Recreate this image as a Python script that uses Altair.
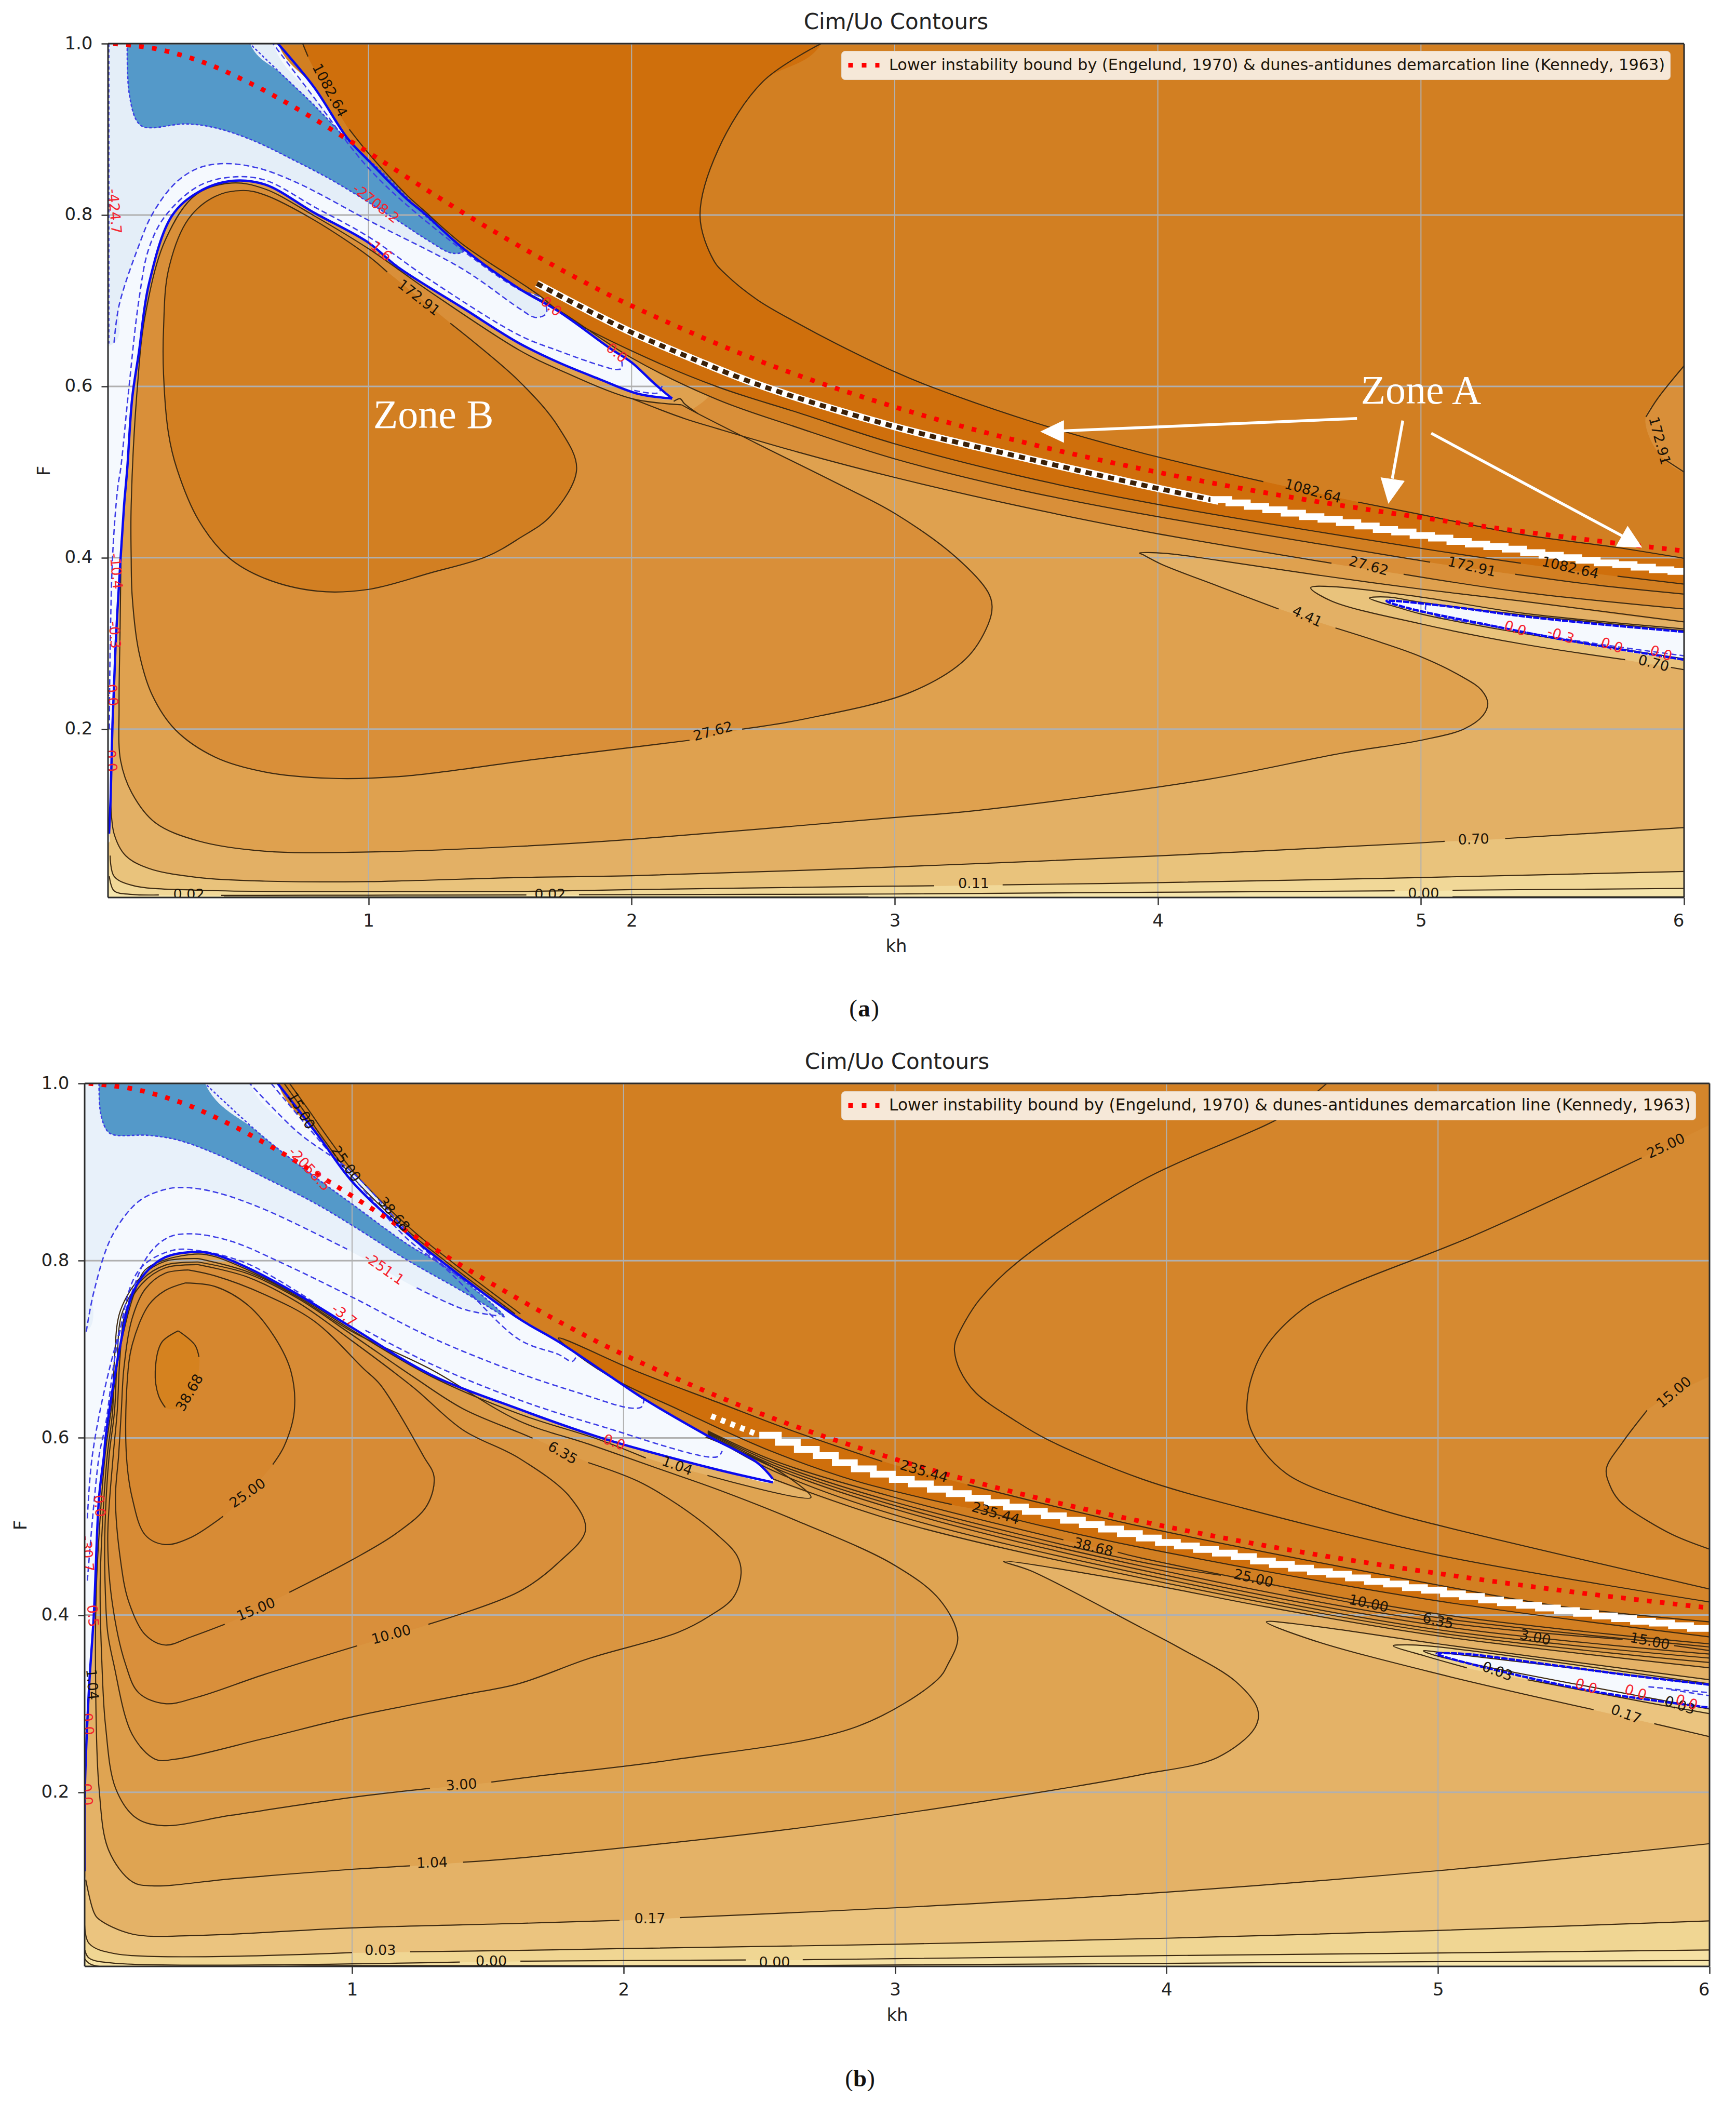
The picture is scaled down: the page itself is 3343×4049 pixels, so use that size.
import altair as alt
import pandas as pd

# ---------- shared reference curve: F values ----------
KENNEDY = [(0.03,1.0),(0.1,0.998),(0.2,0.9935),(0.3,0.9855),(0.4,0.975),(0.5,0.9613),(0.6,0.946),(0.7,0.929),(0.8,0.911),(0.9,0.892),
           (1.0,0.873),(1.2,0.8335),(1.4,0.795),(1.6,0.759),(1.8,0.725),(2.0,0.694),(2.5,0.628),(3.0,0.576),(3.5,0.534),(4.0,0.4998),
           (4.5,0.471),(5.0,0.447),(5.5,0.426),(6.0,0.408)]
LEGEND_TEXT = "Lower instability bound by (Engelund, 1970) & dunes-antidunes demarcation line (Kennedy, 1963)"
KH_TICKS = [1,2,3,4,5,6]
F_TICKS = [0.2,0.4,0.6,0.8,1.0]

# ---------- panel (a) ----------
A_STEP = [(4.20,.468),(4.27,.464),(4.34,.460),(4.41,.456),(4.48,.452),(4.55,.448),(4.62,.445),(4.69,.441),(4.76,.437),(4.83,.433),
          (4.90,.430),(4.97,.426),(5.04,.423),(5.11,.419),(5.18,.416),(5.25,.413),(5.32,.410),(5.39,.406),(5.46,.403),(5.53,.400),
          (5.60,.397),(5.67,.394),(5.74,.392),(5.81,.389),(5.88,.386),(5.95,.384),(6.02,.381)]
A_SING = [(1.64,.720),(1.8,.694),(2.0,.663),(2.25,.630),(2.5,.600),(3.0,.553),(3.5,.516),(3.94,.485),(4.23,.466)]
A_00A = [(.45,.0035),(2.9,.0035)]
A_00B = [(5.12,.0037),(6,.0037)]
A_02 = [(.015,.0283),(.033,.0113),(.102,.0071),(.203,.0065),None,(.44,.006),(1.0,.0062),(1.6,.0065),None,(1.8,.0068),(2.99,.0076),(4.0,.0096),(4.9,.0113),None,(5.12,.012),(6,.0141)]
A_11 = [(.018,.0524),(.033,.0283),(.102,.0177),(.354,.012),(1.0,.0104),(1.572,.0106),(2.0,.0127),(2.99,.0167),(3.15,.0172),None,(3.41,.0183),(4.0,.0208),(5.0,.0268),(6,.0339)]
A_70 = [(.02,.1205),(.033,.0779),(.077,.0523),(.165,.0374),(.354,.0268),(.606,.0226),(1.0,.0221),(1.572,.0268),(2.0,.0289),(2.99,.039),(4.0,.0521),(5.0,.0673),(5.09,.069),None,(5.32,.0723),(6,.0851)]
A_441 = [(.06,.42),(.056,.32),(.052,.2269),(.058,.163),(.102,.1247),(.19,.0907),(.354,.0694),(.606,.0575),(1.0,.0566),(1.572,.0632),(2.0,.0713),(2.99,.0966),(3.31,.105),(4.186,.1412),(4.7,.172),(5.0,.187),(5.164,.2002),(5.236,.216),(5.254,.2299),(5.23,.2455),(5.16,.2605),(5.0,.2845),(4.85,.301),(4.675,.3181),None,(4.459,.3402),(4.229,.3669),(4.013,.3925),(3.94,.4041),(3.93,.4055),(4.027,.4052),(4.229,.397),(4.58,.381),(5.0,.3634),(5.38,.3495),(6,.3251)]
A_W70 = [(6,.3170),(5.38,.3356),(5.0,.3541),(4.66,.3664),(4.581,.365),(4.66,.3495),(5.0,.3228),(5.38,.2996),(5.776,.281),None,(5.95,.272),(6,.2694)]
A_W11 = [(6,.3150),(5.38,.3335),(5.0,.3480),(4.876,.3541),(4.804,.353),(4.919,.3414),(5.0,.3344),(5.31,.3158),(6,.2821)]
A_TIP = [(6,.3135),(5.668,.3228),(5.38,.332),(5.092,.3437),(4.869,.3495),(4.948,.3414),(5.236,.3228),(5.524,.3054),(6,.281)]
A_TIP_D = [(5.02,.346),(5.02,.3379),(5.308,.3181),(5.668,.2996),(6,.2856)]
A_C = [(6,.3402),(5.38,.36),(4.934,.3808),None,(4.66,.3936),(3.94,.4314),(3.46,.4612),(3,.4937),(2.63,.5235),(2.327,.5506),(2.2,.5625),(2.0,.5858)]
A_LOBE27 = [(2.19,.5785),(2.0,.5858),(1.723,.6197),(1.573,.6423),(1.235,.7102),(1.0,.7607),(.794,.799),(.606,.8304),(.48,.8373),(.341,.823),(.228,.771),(.152,.684),(.121,.597),(.098,.461),(.098,.4006),(.102,.3546),(.127,.2907),(.178,.2397),(.266,.1992),(.417,.1673),(.606,.15),(.857,.1426),(1.13,.145),(1.64,.165),(2.22,.187),None,(2.42,.2),(2.66,.212),(3.06,.243),(3.27,.282),(3.355,.3223),(3.37,.3434),(3.355,.3597),(3.234,.4003),(3.0,.4518),(2.78,.487),(2.478,.533),(2.252,.5682),(2.19,.5785)]
A_LOOP = [(2.252,.5682),(2.2,.58),(2.185,.5855),(2.16,.5825)]
A_R172 = [(6,.3576),(5.67,.368),(5.358,.3808),None,(5.035,.3948),(5.0,.3966),(3.94,.4512),(3.46,.4802),(3,.5154),(2.63,.552),(2.327,.5845),(2.0,.6332),(1.723,.6888),(1.572,.7145)]
A_ZONEB = [(1.071,.7335),(1.0,.752),(.794,.794),(.606,.8234),(.524,.8286),(.417,.8217),(.316,.7955),(.24,.7363),(.221,.6667),(.221,.6144),(.24,.5448),(.272,.5036),(.354,.444),(.467,.4006),(.606,.3759),(.807,.361),(1.0,.3631),(1.235,.3823),(1.449,.4014),(1.573,.4227),(1.693,.449),(1.791,.5032),(1.723,.552),(1.572,.6062),(1.311,.6736),None,(1.071,.7335)]
A_1082L = [(6,.3692),(5.747,.3785),None,(5.38,.3936),(5,.411),(3.941,.4656),(3.46,.4965),(3,.533),(2.63,.5696),(2.327,.5994),(2.0,.6414),(1.753,.6806),(1.648,.7064),(1.361,.765),(1.21,.8055),(1.147,.8229),(1.0,.872),(.927,.9),None,(.77,.985),(.75,1.0)]
A_1082U = [(2.72,1.0),(2.5,.956),(2.33,.877),(2.26,.799),(2.312,.747),(2.358,.7307),(2.478,.701),(2.63,.6739),(2.78,.6495),(3.0,.617),(3.128,.6007),(3.536,.5574),(3.941,.5222),(4.401,.4888),None,(4.761,.4649),(5.0,.4505),(5.38,.4273),(5.74,.4122),(6,.3994)]
A_RC = [(6,.624),(5.9,.586),(5.855,.5643),None,(5.925,.515),(6,.5)]
A_UPPER = [(.656,1.0),(.794,.9488),(.92,.8896),(1.0,.8635),(1.147,.8182),(1.21,.8025),(1.361,.7607),(1.573,.714),(1.723,.6874),(1.92,.644),(2.0,.628),(2.086,.6034),(2.154,.5858)]
A_LOWER = [(2.154,.5858),(2.025,.5913),(1.874,.6089),(1.723,.6278),(1.573,.6503),(1.361,.691),(1.109,.7398),(1.0,.7677),(.794,.8025),(.606,.8356),(.48,.8398),(.354,.8269),(.253,.799),(.165,.7189),(.127,.6388),(.102,.5866),(.083,.5036),(.071,.461),(.058,.4006),(.039,.299),(.027,.2056),(.02,.12),(.014,.078)]
A_LIGHT = [(.033,.651),(.052,.6945),(.127,.7642),(.178,.8008),(.266,.8373),(.354,.8548),(.454,.86),(.58,.8548),(.731,.8373),(1.0,.7938),(1.361,.7363),(1.573,.691),(1.632,.6806),(1.67,.6833),(1.678,.6888),(1.655,.7037),(1.572,.7131),(1.235,.7886),(1.0,.8547),(.794,.9366),(.637,1.0)]
A_DASH2 = [(.015,.2),(.018,.291),(.028,.4057),(.047,.482),(.058,.5036),(.089,.597),(.127,.7),(.165,.7607),(.228,.799),(.354,.8338),(.48,.8443),(.606,.8408),(.794,.8095),(1.0,.7746),(1.235,.7241),(1.573,.6597),(1.723,.6414),(1.874,.6251),(1.942,.6197),(1.962,.6211),(1.962,.6305)]
A_DASH3 = [(2.01,.5953),(2.101,.5926),(2.116,.6007)]
A_AXIS_D = [(.013,1.0),(.013,.65)]
A_BLUE = [(.083,1.0),(.089,.9453),(.115,.9122),(.14,.9035),(.178,.9018),(.303,.9063),(.417,.9018),(.555,.8878),(.731,.8617),(.87,.8391),(1.109,.7938),(1.222,.7712),(1.317,.7555),(1.361,.7579),(1.21,.8008),(1.071,.8443),(.92,.8878),(.794,.9279),(.669,.9645),(.549,1.0)]
A_ARROWS = [[(4.757,.5625),(3.62,.5478)],[(4.931,.5601),(4.891,.4923)],[(5.039,.5453),(5.768,.425)]]
A_HEADS = [[(3.554,.5471),(3.642,.5601),(3.642,.5344)],[(4.847,.4935),(4.937,.4895),(4.876,.4633)],[(5.786,.437),(5.742,.4133),(5.84,.4122)]]
A_LABELS = [("1082.64",.851,.9453,62,"k"),("172.91",1.19,.7032,38,"k"),("1082.64",4.589,.4772,15,"k"),("27.62",4.801,.39,15,"k"),("172.91",5.193,.389,13,"k"),
            ("1082.64",5.567,.3878,13,"k"),("4.41",4.567,.3309,25,"k"),("0.70",5.884,.2763,14,"k"),("172.91",5.905,.5364,75,"k"),("27.62",2.31,.197,345,"k"),
            ("0.70",5.2,.0708,358,"k"),("0.11",3.3,.0195,0,"k"),("0.02",.317,.0065,0,"k"),("0.02",1.69,.0065,0,"k"),("0.00",5.01,.0075,0,"k"),
            ("-424.7",.033,.8042,85,"r"),("-2708.2",1.027,.813,38,"r"),("-1.6",1.04,.759,40,"r"),("0.0",1.693,.6928,40,"r"),("0.0",1.942,.6387,40,"r"),
            ("-10.4",.039,.3844,85,"r"),("-0.3",.033,.3099,85,"r"),("0.0",.024,.2397,85,"r"),("0.0",.02,.163,85,"r"),
            ("0.0",5.358,.317,18,"r"),("-0.3",5.531,.3089,18,"r"),("0.0",5.725,.2972,18,"r"),("0.0",5.912,.2879,18,"r")]

# ---------- panel (b) ----------
B_STEP = [(2.50,.603),(2.57,.595),(2.64,.587),(2.71,.580),(2.78,.572),(2.85,.565),(2.92,.559),(2.99,.553),(3.06,.548),(3.13,.542),(3.20,.537),
          (3.27,.532),(3.34,.527),(3.41,.522),(3.48,.517),(3.55,.512),(3.62,.507),(3.69,.502),(3.76,.497),(3.83,.492),(3.90,.487),(3.97,.482),
          (4.04,.478),(4.11,.474),(4.18,.470),(4.25,.466),(4.32,.461),(4.39,.457),(4.46,.453),(4.53,.449),(4.60,.446),(4.67,.442),(4.74,.438),
          (4.81,.435),(4.88,.431),(4.95,.428),(5.02,.424),(5.09,.421),(5.16,.417),(5.23,.414),(5.30,.411),(5.37,.408),(5.44,.405),(5.51,.402),
          (5.58,.399),(5.65,.396),(5.72,.393),(5.79,.391),(5.86,.388),(5.93,.385),(6.02,.383)]
B_SING = [(2.323,.6246),(2.5,.603)]
B_LOW = [(.016,.012),(.04,.0055),(1.0,.0045),(2.6,.0045),(3.997,.0069),(5.01,.0089),(6,.0102)]
B_00 = [(.016,.0218),(.031,.013),(.129,.007),(1.397,.0084),None,(1.62,.0094),(2.45,.0108),None,(2.66,.011),(2.998,.0122),(3.997,.0157),(5.01,.0187),(6,.022)]
B_03 = [(.015,.0499),(.031,.0295),(.129,.0177),(1.0,.0191),None,(1.214,.02),(1.614,.0216),(2.0,.0236),(2.998,.0285),(3.997,.0353),(5.01,.0442),(6,.0549)]
B_17 = [(.019,.1014),(.05,.0639),(.068,.0566),(.19,.04),(.433,.0385),(1,.047),(1.614,.052),(1.985,.0555),None,(2.207,.0585),(2.998,.0696),(3.997,.0873),(5.01,.1118),(6,.142)]
B_104 = [(6,.3405),(5,.3765),(4.368,.4092),(3.908,.4362),(3.4,.4605),(3.5,.45),(3.908,.3856),(4.048,.363),(4.256,.3247),(4.336,.2932),(4.326,.273),(4.187,.2392),(3.908,.22),(3.65,.2059),(2.66,.1603),(1.614,.1258),(1.409,.1211),None,(1.214,.117),(1.0,.1131),(.556,.1024),(.263,.0944),(.19,.0991),(.104,.1342),(.068,.2045),(.055,.34),(.058,.43),(.07,.5),(.09,.5794),(.112,.63),(.145,.7),(.2,.765),(.238,.7895),(.312,.801),(.433,.8075),(.495,.8045),(.616,.7895),(.8,.7605),(1.0,.7215),(1.287,.67),(1.614,.6272),(1.907,.5983),(2.082,.5773),None,(2.309,.5576),(2.69,.5327),(2.55,.5668),(2.302,.601)]
B_LOBE3 = [(.433,.8024),(.616,.7874),(.8,.7589),(1.0,.7199),(1.287,.6779),(1.614,.6193),(1.87,.5931),(2.126,.5655),(2.345,.5419),(2.638,.5064),(2.997,.4565),(3.165,.4171),(3.231,.3751),(3.194,.3441),(3.157,.3274),(2.86,.2742),(2.17,.2362),(1.676,.218),(1.513,.2115),None,(1.287,.2045),(1.0,.1942),(.556,.1741),(.3,.1624),(.202,.1717),(.129,.2045),(.092,.2748),(.078,.35),(.072,.43),(.08,.5),(.098,.5794),(.118,.63),(.125,.6899),(.147,.7439),(.226,.7829),(.312,.7994),(.433,.8024)]
B_LOBE6 = [(.433,.7985),(.616,.7853),(.8,.7574),(1.0,.7163),(1.226,.6688),(1.409,.6328),(1.614,.6062),(1.665,.5997),None,(1.87,.5721),(2.053,.5511),(2.199,.5248),(2.345,.4907),(2.418,.467),(2.433,.4473),(2.404,.4198),(2.316,.3988),(2.2,.3804),(1.877,.3515),(1.614,.3226),(1.409,.31),(1.0,.2851),(.677,.2608),(.348,.2373),(.275,.2373),(.19,.2654),(.122,.345),(.1,.38),(.09,.4388),(.09,.5),(.105,.5794),(.125,.63),(.135,.6899),(.153,.7409),(.226,.7784),(.312,.7949),(.433,.7985)]
B_LOBE10 = [(.433,.7955),(.616,.7814),(.8,.7529),(1.0,.7094),(1.226,.6569),(1.409,.6088),(1.614,.5773),(1.804,.5327),(1.86,.4959),(1.76,.4592),(1.614,.4263),(1.281,.3896),None,(1.019,.3653),(.677,.333),(.433,.3076),(.311,.3),(.214,.3123),(.165,.3451),(.116,.4154),(.1,.4857),(.12,.5794),(.135,.63),(.145,.69),(.165,.7409),(.226,.7739),(.312,.7919),(.433,.7955)]
B_LOBE15 = [(.397,.7895),(.495,.7829),(.677,.7619),(.86,.7319),(1.043,.6779),(1.104,.66),(1.263,.5794),(1.302,.556),(1.275,.5232),(1.165,.4927),(1.0,.4623),(.769,.4257),None,(.531,.3896),(.409,.3756),(.311,.3662),(.238,.3779),(.177,.4154),(.147,.4622),(.1285,.5325),(.14,.5794),(.15,.63),(.16,.68),(.19,.7349),(.238,.7679),(.312,.7859),(.397,.7895)]
B_LOBE25 = [(.385,.7748),(.495,.7709),(.616,.7499),(.714,.714),(.775,.6748),(.787,.6298),(.75,.5908),(.708,.57),None,(.525,.5115),(.409,.488),(.311,.4796),(.238,.4904),(.19,.5325),(.169,.5794),(.171,.66),(.19,.7049),(.251,.7499),(.312,.7664),(.385,.7748)]
B_LOBE38 = [(.36,.7208),(.421,.7049),(.436,.6913),None,(.312,.6343),(.287,.6478),(.275,.6749),(.299,.7079),(.36,.7208)]
B_LOBE38_FILL = [(.36,.7208),(.421,.7049),(.436,.6913),(.434,.675),(.421,.654),(.36,.634),(.312,.6343),(.287,.6478),(.275,.6749),(.299,.7079),(.36,.7208)]
B_R3 = [(6,.3465),(5,.38),(3.908,.4418),(3,.5064),(2.55,.5537)]
B_R6 = [(6,.3515),(5,.3835),(3.908,.4463),(3,.513),(2.55,.563),(2.31,.604)]
B_R10 = [(6,.356),(5,.388),(3.908,.4508),(3,.5195),(2.55,.5668),(2.31,.605)]
B_R15 = [(6,.36),(5.87,.3655),None,(5.68,.3725),(5,.3925),(3.908,.4553),(3,.5235),(2.55,.5695),(2.31,.606)]
B_R25 = [(6,.364),(5,.397),(4.45,.428),None,(4.2,.445),(3.908,.4598),(3,.5274),(2.55,.5721),(2.31,.607)]
B_R38 = [(6,.3675),(5,.4013),(3.908,.4643),(3.82,.471),None,(3.62,.485),(3,.5327),(2.55,.5747),(2.31,.608)]
B_LENS = [(6,.3754),(5,.4159),(3.908,.4762),(3.516,.5025),(3.3,.5195),None,(3.209,.5248),(2.858,.5511),(2.521,.5878),(2.199,.6325),(1.98,.664),(1.833,.6929),(1.76,.7126),(2.053,.6745),(2.345,.6403),(2.638,.6062),(2.953,.5734),None,(3.267,.5471),(3.908,.4999),(5,.4339),(5.441,.4103),(6,.3923)]
B_L38 = [(4.59,1.0),(4.44,.965),(3.9,.889),(3.45,.798),(3.311,.7559),(3.25,.727),(3.222,.708),(3.219,.6981),(3.238,.677),(3.297,.651),(3.443,.6193),(3.56,.5983),(3.908,.5537),(4.284,.5206),(5,.4677),(6,.4148)]
B_L25 = [(6,.953),None,(5.75,.916),(5.13,.828),(4.64,.768),(4.5,.745),(4.36,.70),(4.3,.65),(4.31,.61),(4.44,.56),(4.772,.5206),(5,.5015),(6,.4294)]
B_L15 = [(6,.669),None,(5.77,.631),(5.68,.595),(5.62,.565),(5.635,.545),(5.665,.53),(5.7,.5206),(5.86,.4913),(6,.4744)]
B_HUG1 = [(.75,1.0),(.82,.97),(.9,.935),(1.0,.895),(1.2,.835),(1.35,.798),(1.6,.74)]
B_HUG2 = [(.77,1.0),(.84,.97),(.92,.935),(1.02,.895),(1.22,.835),(1.37,.798),(1.62,.74)]
B_W17 = [(6,.327),(5,.3675),(4.535,.3878),(4.368,.3923),(4.535,.372),(5,.3337),(5.573,.2932),None,(5.796,.2775),(6,.2628)]
B_W03 = [(6,.3225),(5,.3641),(4.884,.3664),(4.835,.3653),(4.95,.354),(5.106,.3405),None,(5.33,.327),(5.775,.3011),(6,.2887)]
B_W00 = [(6,.3214),(5.023,.3574),(4.946,.3596),(5.009,.3529),(6,.294)]
B_TIP = [(6,.3214),(5.72,.3315),(5.441,.3428),(5.093,.3563),(4.995,.3563),(5.023,.3529),(5.302,.3315),(5.58,.3135),(5.775,.3045),(6,.2955)]
B_TIP_D1 = [(5.775,.3191),(6,.3124)]
B_TIP_D2 = [(5.859,.3157),(6,.309)]
B_UPPER = [(.726,1.0),(.873,.942),(1.0,.8894),(1.202,.8309),(1.348,.7949),(1.614,.7348),(1.76,.7086),(1.965,.6666),(2.067,.6456),(2.302,.6036),(2.492,.5721),(2.55,.5537)]
B_LOWER = [(2.55,.5498),(2.345,.5642),(2.053,.5878),(1.907,.601),(1.614,.6325),(1.287,.6718),(1.0,.7244),(.8,.7619),(.616,.7919),(.495,.8069),(.433,.81),(.312,.8039),(.238,.7859),(.19,.7619),(.141,.6959),(.092,.5998),(.086,.5794),(.068,.5325),(.049,.4013),(.031,.317),(.016,.2045),(.015,.1108)]
B_LIGHT = [(.021,.7199),(.049,.7649),(.116,.8279),(.214,.8669),(.312,.8804),(.385,.8825),(.495,.8774),(.677,.8579),(.982,.8129),(1.238,.7694),(1.409,.7454),(1.531,.7379),(1.562,.7364),(1.5,.76),(1.287,.8069),(1.0,.8999),(.8,.945),(.623,1.0)]
B_D1 = [(.021,.7199),(.049,.7649),(.116,.8279),(.214,.8669),(.312,.8804),(.385,.8825),(.495,.8774),(.677,.8579),(.982,.8129),None,(1.238,.7694),(1.409,.7454),(1.531,.7379),None,(1.5,.76),(1.287,.8069),(1.0,.8999),(.8,.945),(.623,1.0)]
B_D2 = [(.025,.5091),(.043,.5794),(.104,.675),(.19,.7649),(.251,.8069),(.324,.8264),(.409,.8303),(.555,.8219),(.738,.7979),(1.0,.7589),(1.287,.7139),(1.614,.6732),(1.833,.6509),(2.023,.6338),(2.067,.6351),(2.075,.6443)]
B_D3 = [(.025,.4388),(.068,.5794),(.092,.6148),(.135,.7048),(.214,.7889),(.336,.8114),(.433,.8114),(.616,.7964),(.86,.7529),None,(1.049,.7214),(1.287,.6839),(1.614,.643),(1.907,.6141),(2.345,.5786),(2.363,.5852)]
B_D4 = [(.702,1.0),(.921,.921),(1.0,.895),(1.202,.825),(1.348,.79),(1.614,.7113),(1.76,.6942),(1.811,.6863),(1.826,.6916)]
B_BLUE = [(.068,1.0),(.074,.966),(.098,.9465),(.122,.942),(.251,.9414),(.36,.936),(.507,.9194),(.677,.8939),(.86,.8654),(1.0,.8399),(1.202,.8009),(1.409,.7649),(1.531,.7424),(1.562,.7364),(1.531,.7469),(1.348,.7919),(1.202,.8189),(1.0,.8639),(.8,.9089),(.653,.945),(.458,1.0)]
B_LABELS = [("15.00",.811,.969,60,"k"),("25.00",.976,.909,55,"k"),("38.68",1.153,.852,50,"k"),("38.68",.403,.6508,300,"k"),("25.00",.616,.5372,325,"k"),
            ("15.00",.647,.406,338,"k"),("10.00",1.145,.3775,345,"k"),("3.00",1.403,.208,356,"k"),("1.04",1.295,.12,358,"k"),("0.03",1.104,.021,0,"k"),
            ("0.00",1.513,.0085,0,"k"),("0.17",2.097,.057,0,"k"),("0.00",2.556,.0075,0,"k"),("6.35",1.775,.5826,30,"k"),("1.04",2.197,.568,20,"k"),
            ("235.44",3.106,.5616,16,"k"),("235.44",3.37,.5143,16,"k"),("38.68",3.73,.4762,14,"k"),("25.00",4.32,.441,13,"k"),("10.00",4.744,.4125,12,"k"),
            ("6.35",5.0,.393,12,"k"),("3.00",5.358,.3743,12,"k"),("15.00",5.78,.37,11,"k"),("0.03",5.218,.336,20,"k"),("0.17",5.692,.2876,20,"k"),("0.03",5.89,.2977,18,"k"),
            ("25.00",5.84,.929,335,"k"),("15.00",5.87,.651,320,"k"),
            ("-2058.5",.842,.903,47,"r"),("-251.1",1.117,.7904,35,"r"),("-3.7",.97,.7379,38,"r"),("0.0",1.965,.5944,20,"r"),("-30.7",.023,.4693,85,"r"),
            ("0.0",.068,.5232,85,"r"),("0.5",.043,.399,85,"r"),("1.04",.041,.3217,85,"k"),("0.0",.025,.277,85,"r"),("0.0",.021,.1975,85,"r"),
            ("0.0",5.545,.3191,18,"r"),("0.0",5.727,.3124,18,"r"),("0.0",5.915,.3011,18,"r")]

FONT = "DejaVu Sans"
LINE = "#3d2a12"
BLUE = "#0a0af0"
DASH = "#3c3ce6"
HI = 1.3


def clean(pts):
    return [p for p in pts if p is not None]


def poly_df(pts):
    pts = clean(pts)
    return pd.DataFrame({"kh": [p[0] for p in pts], "F": [p[1] for p in pts], "i": list(range(len(pts)))})


def seg_df(pts):
    rows, seg, i = [], 0, 0
    for p in pts:
        if p is None:
            seg += 1
            continue
        rows.append({"kh": p[0], "F": p[1], "i": i, "seg": seg})
        i += 1
    return pd.DataFrame(rows)


def above(pts):
    c = clean(pts)
    return c + [(6.2, c[-1][1]), (7, c[-1][1]), (7, HI), (-1, HI), (-1, c[0][1])]


class Panel:
    def __init__(self, xmin, ymin, width, height):
        self.width, self.height = width, height
        self.x = alt.X("kh:Q", scale=alt.Scale(domain=[xmin, 6], nice=False, zero=False),
                       axis=alt.Axis(values=KH_TICKS, format="d", title="kh", grid=False, domain=False))
        self.y = alt.Y("F:Q", scale=alt.Scale(domain=[ymin, 1], nice=False, zero=False),
                       axis=alt.Axis(values=F_TICKS, format=".1f", title="F", grid=False, domain=False))
        self.xmin, self.ymin = xmin, ymin
        self.layers = []

    def fill(self, pts, color):
        self.layers.append(alt.Chart(poly_df(pts)).mark_line(
            fill=color, stroke=color, strokeWidth=1, interpolate="catmull-rom", clip=True
        ).encode(x=self.x, y=self.y, order="i:Q"))

    def flat(self, pts, color):
        self.layers.append(alt.Chart(poly_df(pts)).mark_line(
            fill=color, stroke=color, strokeWidth=1, interpolate="linear", clip=True
        ).encode(x=self.x, y=self.y, order="i:Q"))

    def line(self, pts, color=LINE, width=2.2, dash=None, interp="catmull-rom"):
        kw = dict(stroke=color, strokeWidth=width, interpolate=interp, clip=True)
        if dash:
            kw["strokeDash"] = dash
        self.layers.append(alt.Chart(seg_df(pts)).mark_line(**kw).encode(
            x=self.x, y=self.y, detail="seg:N", order="i:Q"))

    def grid(self):
        self.layers.append(alt.Chart(pd.DataFrame({"kh": KH_TICKS})).mark_rule(color="#b0b0b0", strokeWidth=2).encode(x=self.x))
        self.layers.append(alt.Chart(pd.DataFrame({"F": F_TICKS})).mark_rule(color="#b0b0b0", strokeWidth=3).encode(y=self.y))

    def labels(self, rows, size=27):
        df = pd.DataFrame(rows, columns=["t", "kh", "F", "a", "c"])
        self.layers.append(alt.Chart(df).mark_text(font=FONT, fontSize=size, clip=True, baseline="middle", align="center").encode(
            x=self.x, y=self.y, text="t:N", angle=alt.Angle("a:Q", scale=None),
            color=alt.Color("c:N", scale=alt.Scale(domain=["k", "r"], range=["#1c1408", "#f5222d"]), legend=None)))

    def kennedy(self, legend_x, legend_y, size):
        df = pd.DataFrame(KENNEDY, columns=["kh", "F"])
        df["i"] = range(len(df))
        df["name"] = LEGEND_TEXT
        self.layers.append(alt.Chart(df).mark_line(strokeDash=[9, 16], strokeWidth=9, interpolate="catmull-rom", clip=True).encode(
            x=self.x, y=self.y, order="i:Q",
            stroke=alt.Stroke("name:N", scale=alt.Scale(range=["#ff0000"]), legend=alt.Legend(
                title=None, orient="none", legendX=legend_x, legendY=legend_y, fillColor="#f6e8d8", strokeColor="#e6d6c4",
                cornerRadius=7, padding=9, labelFont=FONT, labelFontSize=size, labelLimit=3000, labelColor="#1c1408",
                symbolType="stroke", symbolSize=3600, symbolStrokeWidth=9, symbolDash=[9, 17], labelOffset=14, clipHeight=37))))

    def spines(self):
        for v in [self.xmin, 6]:
            self.layers.append(alt.Chart(pd.DataFrame({"kh": [v]})).mark_rule(color="#2b2b2b", strokeWidth=3).encode(x=self.x))
        for v in [self.ymin, 1]:
            self.layers.append(alt.Chart(pd.DataFrame({"F": [v]})).mark_rule(color="#2b2b2b", strokeWidth=3).encode(y=self.y))

    def caption(self, letter, px, py):
        for t, dx, w in [("(", -21, "normal"), (letter, 0, "bold"), (")", 21, "normal")]:
            self.layers.append(alt.Chart(pd.DataFrame({"t": [t]})).mark_text(
                font="Liberation Serif", fontSize=47, fontWeight=w, color="#111111", align="center", baseline="middle"
            ).encode(text="t:N", x=alt.value(px + dx), y=alt.value(py)))

    def chart(self):
        return alt.layer(*self.layers).properties(
            width=self.width, height=self.height,
            title=alt.TitleParams("Cim/Uo Contours", font=FONT, fontSize=42, fontWeight="normal", color="#222222", offset=2))


TONGUE_HIDE = [(2.3, .595), (1.6, .71), (1.0, .86), (.7, .98), (.65, HI), (7, HI)]

# ============ panel (a) ============
a = Panel(0.01, 0.0035, 3035, 1644)
a.flat([(-1, -1), (7, -1), (7, HI), (-1, HI)], "#f6e6ad")
a.fill(above(A_02), "#f1d898")
a.fill(above(A_11), "#e9c37c")
a.fill(above(A_70), "#e3b065")
a.fill(above(A_441), "#dfa14f")
a.fill(clean(A_C)[:-1] + TONGUE_HIDE + [(7, .3402)], "#d98f39")
a.fill(A_LOBE27, "#d98f39")
a.fill(A_R172 + [(1.2, .8), (.9, .88), (.6, 1.0), (.6, HI), (7, HI), (7, .3576)], "#d27f22")
a.fill(clean(A_RC)[:3] + [(5.87, .54)] + clean(A_RC)[3:] + [(6.2, .5), (6.2, .624)], "#d98f39")
a.fill(A_ZONEB, "#d27f22")
a.fill(clean(A_1082L) + [(.74, HI), (2.8, HI)] + clean(A_1082U) + [(6.2, .39), (6.2, .36)], "#cf6f0c")
a.fill(A_W70 + [(6.2, .2694), (6.2, .317)], "#e9c37c")
a.fill(A_W11 + [(6.2, .2821), (6.2, .315)], "#f1d898")
a.fill(A_TIP + [(6.2, .281), (6.2, .3135)], "#f5f9fe")
a.fill([(-1, HI), (.656, HI)] + A_UPPER + A_LOWER[1:] + [(.0138, .068), (0, .068), (-1, .068)], "#f5f9fe")
a.fill([(-1, .65)] + A_LIGHT + [(.637, HI), (-1, HI)], "#e4eef8")
a.fill(A_BLUE + [(.549, HI), (.083, HI)], "#5499c9")
a.grid()
for c in [A_02, A_11, A_70, A_441, A_C, A_LOBE27, A_LOOP, A_R172, A_ZONEB, A_1082L, A_1082U, A_W70, A_W11, A_RC]:
    a.line(c)
a.line(A_00A, "#141008", 4, interp="linear")
a.line(A_00B, "#141008", 4, interp="linear")
for c in [A_LIGHT, A_DASH2, A_DASH3, A_TIP_D]:
    a.line(c, DASH, 2.6, [11, 6])
a.line(A_AXIS_D, DASH, 2.6, [6, 5], interp="linear")
a.line(A_BLUE, DASH, 2.6, [5, 4])
a.line(A_UPPER, BLUE, 4.5)
a.line(A_LOWER, BLUE, 4.5)
a.line(A_TIP, BLUE, 4.5, [12, 2])
a.line(A_SING, "#ffffff", 14)
a.line(A_SING, "#3a2008", 9, [12, 10])
a.line(A_STEP, "#ffffff", 13, interp="step-after")
a.kennedy(1412, 14, 30.3)
a.labels(A_LABELS)
a.spines()
for seg in A_ARROWS:
    a.line(seg, "#ffffff", 5.5, interp="linear")
for h in A_HEADS:
    a.flat(h, "#ffffff")
a.layers.append(alt.Chart(pd.DataFrame({"t": ["Zone B", "Zone A"], "kh": [1.2466, 5.0], "F": [.5655, .5936]})).mark_text(
    font="Liberation Serif", fontSize=78, color="#ffffff", align="center", baseline="middle").encode(x=a.x, y=a.y, text="t:N"))
a.caption("a", 1456, 1859)

# ============ panel (b) ============
b = Panel(0.015, 0.0035, 3129, 1700)
b.flat([(-1, -1), (7, -1), (7, HI), (-1, HI)], "#f7e7ae")
b.fill(above(B_LOW), "#f5e1a4")
b.fill(above(B_00), "#f0d693")
b.fill(above(B_03), "#ebc47f")
b.fill(above(B_17), "#e4b267")
b.fill(clean(B_104) + [(1.6, .71), (1.0, .86), (.7, .98), (.65, HI), (7, HI), (7, .3405)], "#dfa452")
b.fill(B_W17 + [(6.2, .2628), (6.2, .327)], "#ebc47f")
b.fill(B_W03 + [(6.2, .2887), (6.2, .3225)], "#f0d693")
b.fill(B_W00 + [(6.2, .294), (6.2, .3214)], "#f5e1a4")
b.fill(B_LOBE3, "#dc9c49")
b.fill(B_R3 + TONGUE_HIDE + [(7, .3465)], "#dc9c49")
b.fill(B_LOBE6, "#da9540")
b.fill(B_R6 + TONGUE_HIDE + [(7, .3515)], "#da9540")
b.fill(B_LOBE10, "#d98f3b")
b.fill(B_R10 + TONGUE_HIDE + [(7, .356)], "#d98f3b")
b.fill(B_LOBE15, "#d78b35")
b.fill(B_R15 + TONGUE_HIDE + [(7, .36)], "#d78b35")
b.fill(B_LOBE25, "#d6872f")
b.fill(B_R25 + TONGUE_HIDE + [(7, .364)], "#d6872f")
b.fill(B_LOBE38_FILL, "#d5821f")
b.fill(B_R38 + TONGUE_HIDE + [(7, .3675)], "#d27f22")
b.fill(B_L38 + [(6.2, .41), (7, .41), (7, HI), (4.6, HI)], "#d4852b")
b.fill(B_L25 + [(6.2, .42), (7, .42), (7, .953), (6.2, .953)], "#d68a31")
b.fill(B_L15 + [(6.2, .47), (6.2, .669)], "#d8903a")
b.fill(B_LENS + [(6.2, .39), (6.2, .375)], "#cf6f0c")
b.fill(B_TIP + [(6.2, .2955), (6.2, .3214)], "#f5f9fe")
b.fill([(-1, HI), (.726, HI)] + B_UPPER + B_LOWER + [(.0148, .1), (0, .1), (-1, .1)], "#f5f9fe")
b.fill([(-1, .72)] + B_LIGHT + [(.623, HI), (-1, HI)], "#e8f1fa")
b.fill(B_BLUE + [(.458, HI), (.068, HI)], "#5499c9")
b.grid()
for c in [B_LOW, B_00, B_03, B_17, B_104, B_LOBE3, B_LOBE6, B_LOBE10, B_LOBE15, B_LOBE25, B_LOBE38, B_R3, B_R6, B_R10, B_R15, B_R25, B_R38,
          B_LENS, B_L38, B_L25, B_L15, B_HUG1, B_HUG2, B_W17, B_W03, B_W00]:
    b.line(c)
for c in [B_D1, B_D2, B_D3, B_D4, B_TIP_D1, B_TIP_D2]:
    b.line(c, DASH, 2.6, [11, 6])
b.line(B_BLUE, DASH, 2.6, [5, 4])
b.line(B_UPPER, BLUE, 4.5)
b.line(B_LOWER, BLUE, 4.5)
b.line(B_TIP, BLUE, 4.5, [12, 2])
b.line(B_SING, "#ffffff", 11, [9, 11])
b.line(B_STEP, "#ffffff", 13, interp="step-after")
b.kennedy(1457, 15, 31.3)
b.labels(B_LABELS)
b.spines()
b.caption("b", 1493, 1917)


def spacer(w):
    return alt.Chart(pd.DataFrame({"v": [0]})).mark_point(opacity=0).encode(
        x=alt.value(0), y=alt.value(0)).properties(width=w, height=1)


def indep(c):
    return c.resolve_scale(stroke="independent", color="independent").resolve_legend(stroke="independent", color="independent")


top = indep(alt.hconcat(spacer(57), a.chart(), spacing=0))
bot = indep(alt.hconcat(spacer(12), b.chart(), spacing=0))
chart = indep(alt.vconcat(top, bot, spacing=58)).properties(
    padding={"left": 0, "top": 14, "right": 0, "bottom": 0}
).configure_view(stroke=None).configure_axis(
    labelFont=FONT, labelFontSize=34, labelColor="#222222", titleFont=FONT, titleFontSize=34, titleFontWeight="normal",
    titleColor="#222222", tickWidth=2.5, tickColor="#333333"
).configure_axisX(tickSize=14, labelPadding=14, titlePadding=15).configure_axisY(tickSize=13, labelPadding=17, titlePadding=21)

chart.save("out.html", embed_options={"renderer": "svg", "actions": False})
